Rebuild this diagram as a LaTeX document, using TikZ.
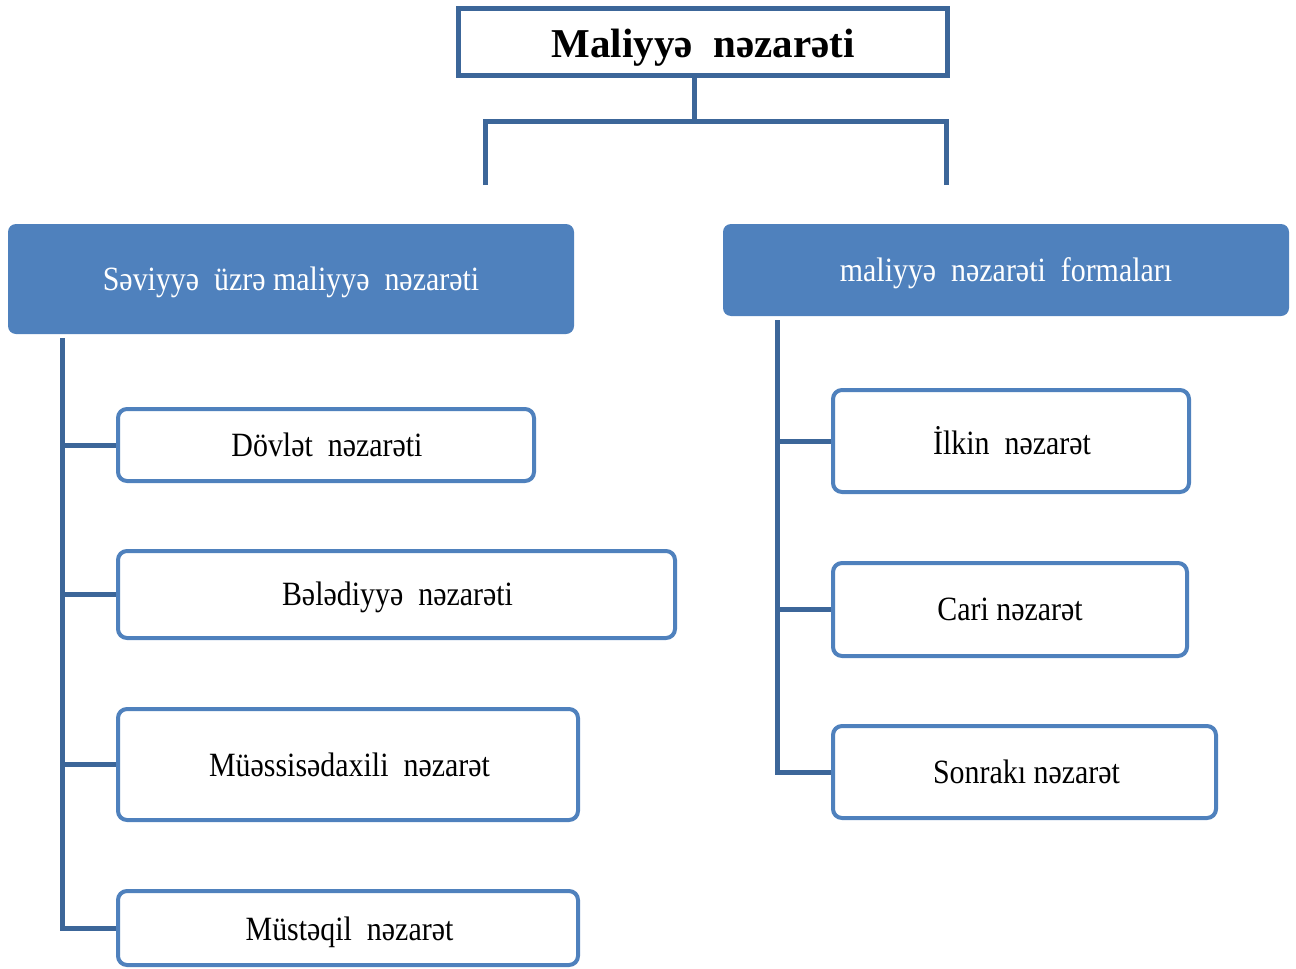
\documentclass[tikz,border=0pt]{standalone}
\usepackage{fontspec}
\setmainfont{Liberation Serif}
\newfontfamily\narrowserif[FakeStretch=0.88]{Liberation Serif}
\definecolor{accent}{HTML}{4F81BD}
\definecolor{linkblue}{HTML}{3C6699}
% lower a label without changing the box size the node sees
\newcommand{\lowered}[2]{\raisebox{-#1pt}[\height][\depth]{#2}}
\tikzset{
  conn/.style={draw=linkblue, line width=5pt, line join=miter},
  titlebox/.style={draw=linkblue, line width=5pt, fill=white, minimum width=489pt, minimum height=67pt,
    inner sep=0pt, font=\fontsize{41}{48}\selectfont\bfseries},
  headbox/.style={fill=accent, rounded corners=8pt, inner sep=0pt, text=white,
    font=\narrowserif\fontsize{34}{40}\selectfont},
  itembox/.style={draw=accent, line width=4pt, fill=white, rounded corners=9pt, inner sep=0pt,
    font=\narrowserif\fontsize{34}{40}\selectfont}
}
\begin{document}
\begin{tikzpicture}[x=1pt, y=-1pt]
\useasboundingbox (0,0) rectangle (1296,969);

% root
\node[titlebox] (top) at (703,42) {\lowered{6}{Maliyyə\ \ nəzarəti}};

% the two groups
\node[headbox, minimum width=566pt, minimum height=110pt] (lh) at (291,279) {\lowered{3}{Səviyyə\ \ üzrə\ maliyyə\ \ nəzarəti}};
\node[headbox, minimum width=566pt, minimum height=92pt] (rh) at (1006,270) {\lowered{3}{maliyyə\ \ nəzarəti\ \ formaları}};

% items of the left group
\node[itembox, minimum width=416pt, minimum height=72pt] (d1) at (326,445) {\hspace*{2pt}Dövlət\ \ nəzarəti};
\node[itembox, minimum width=557pt, minimum height=87pt] (d2) at (396.5,594.5) {\hspace*{2pt}\lowered{3}{Bələdiyyə\ \ nəzarəti}};
\node[itembox, minimum width=460pt, minimum height=111pt] (d3) at (348,764.5) {\hspace*{3pt}Müəssisədaxili\ \ nəzarət};
\node[itembox, minimum width=460pt, minimum height=74pt] (d4) at (348,928) {\hspace*{3pt}\lowered{4}{Müstəqil\ \ nəzarət}};

% items of the right group
\node[itembox, minimum width=356pt, minimum height=102pt] (f1) at (1011,441) {\hspace*{2pt}İlkin\ \ nəzarət};
\node[itembox, minimum width=354pt, minimum height=93pt] (f2) at (1010,609.5) {Cari nəzarət};
\node[itembox, minimum width=383pt, minimum height=92pt] (f3) at (1024.5,772) {\hspace*{4pt}Sonrakı nəzarət};

% fork below the root
\coordinate (bl) at (485,121);
\coordinate (br) at (946,121);
\coordinate (dl) at (485,185);
\coordinate (dr) at (946,185);
\draw[conn] ([xshift=-9pt]top.south) -- ([xshift=-9pt]top.south |- bl);
\draw[conn] (dl) -- (bl) -- (br) -- (dr);

% left trunk and branches
\coordinate (lt) at (62,338);
\draw[conn] (lt) |- (d4.west);
\draw[conn] (lt |- d1.west) -- (d1.west);
\draw[conn] (lt |- d2.west) -- (d2.west);
\draw[conn] (lt |- d3.west) -- (d3.west);

% right trunk and branches
\coordinate (rt) at (777,320);
\draw[conn] (rt) |- (f3.west);
\draw[conn] (rt |- f1.west) -- (f1.west);
\draw[conn] (rt |- f2.west) -- (f2.west);
\end{tikzpicture}
\end{document}
